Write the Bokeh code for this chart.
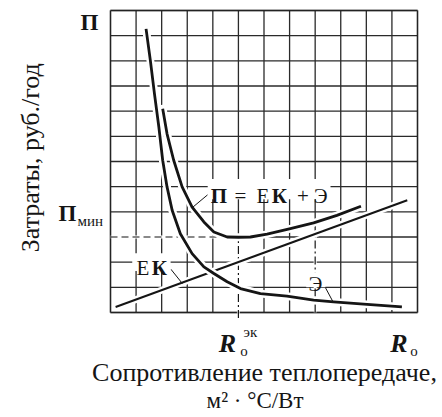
import math
from bokeh.plotting import figure
from bokeh.models import Label, BoxAnnotation
from bokeh.embed import file_html
from bokeh.resources import INLINE

# ---- data (schematic units, grid of 12 x 12 cells) ----
GRID_TICKS = list(range(13))

# operating cost curve "Э"
R_E = [1.39, 1.56, 1.72, 1.89, 2.04, 2.21, 2.41, 2.73, 3.19, 3.65, 4.04, 4.56,
       5.08, 5.86, 6.9, 7.94, 8.72, 10.03, 11.39]
E_VALS = [11.27, 10.0, 8.68, 7.37, 6.05, 4.99, 4.06, 3.13, 2.34, 1.81, 1.55, 1.22,
          0.95, 0.75, 0.65, 0.49, 0.42, 0.32, 0.22]

# capital cost line "ЕК"
R_EK = [0.2, 11.6]
EK_VALS = [0.22, 4.46]

# total cost curve "П = ЕК + Э"
R_P = [2.04, 2.21, 2.47, 2.8, 3.19, 3.65, 4.04, 4.56, 5.0, 5.47, 6.12, 7.03, 7.94,
       8.85, 9.79]
P_VALS = [8.10, 7.10, 6.05, 4.99, 4.19, 3.6, 3.2, 3.0, 2.99, 3.0, 3.11, 3.33, 3.56,
          3.86, 4.22]

P_MIN = 3.0      # minimum total cost level
R_ECON = 5.0     # economical resistance
R_MARK = 8.0     # second marked resistance

FONT = "Liberation Serif"
INK = "#151515"

# layout: the 12x12 grid occupies pixels x 110..417, y 10..312 of a 442x417 canvas
W, H = 442, 417
GL, GR, GT, GB = 110, 417, 10, 312
sx = (GR - GL) / 12.0
sy = (GB - GT) / 12.0
x_rng = (-GL / sx, 12 + (W - GR) / sx)
y_rng = (-(H - GB) / sy, 12 + GT / sy)

p = figure(width=W, height=H, x_range=x_rng, y_range=y_rng,
           x_axis_type=None, y_axis_type=None, toolbar_location=None,
           output_backend="svg", min_border=0)
p.background_fill_color = "white"
p.border_fill_color = "white"
p.outline_line_color = None

lo, hi = GRID_TICKS[0], GRID_TICKS[-1]
# grid lines
p.segment(x0=GRID_TICKS, y0=[lo] * len(GRID_TICKS), x1=GRID_TICKS, y1=[hi] * len(GRID_TICKS),
          line_color="#2a2a2a", line_width=1.3)
p.segment(x0=[lo] * len(GRID_TICKS), y0=GRID_TICKS, x1=[hi] * len(GRID_TICKS), y1=GRID_TICKS,
          line_color="#2a2a2a", line_width=1.3)

# white backgrounds behind in-plot labels (hide grid lines)
for (l, r, b, t) in [(3.8, 8.6, 4.5, 5.3), (0.85, 2.35, 1.65, 2.35), (7.65, 8.4, 1.0, 1.6)]:
    p.add_layout(BoxAnnotation(left=l, right=r, bottom=b, top=t, fill_color="white",
                               fill_alpha=1, line_color=None, level="glyph"))

# guide lines (dashed)
guides = [([0, 4.6], [P_MIN, P_MIN], "7 4"),
          ([R_ECON, R_ECON], [-0.22, P_MIN], "8 3 2 3"),
          ([R_MARK, R_MARK], [0, 3.56], "8 3 2 3")]
for xs, ys, dash in guides:
    p.line(xs, ys, line_color="white", line_width=3)
    p.line(xs, ys, line_color=INK, line_width=1.2, line_dash=dash)

# curves with white halos
for xs, ys, w in [(R_EK, EK_VALS, 2.0), (R_E, E_VALS, 2.8), (R_P, P_VALS, 2.8)]:
    p.line(xs, ys, line_color="white", line_width=w + 5, line_cap="round", line_join="round")
    p.line(xs, ys, line_color=INK, line_width=w, line_join="round")

# leader lines
for xs, ys in [([3.2, 3.8], [4.17, 4.68]), ([2.36, 2.81], [1.72, 1.15]), ([8.4, 8.71], [0.99, 0.4])]:
    p.line(xs, ys, line_color=INK, line_width=1)

# frame of the grid
p.add_layout(BoxAnnotation(left=lo, right=hi, bottom=lo, top=hi, fill_alpha=0,
                           line_color=INK, line_width=2, level="overlay"))


def lab(text, x, y, size, style="normal", align="left", angle=0.0):
    p.add_layout(Label(x=x, y=y, text=text, text_font=FONT, text_font_size=f"{size}px",
                       text_font_style=style, text_align=align, text_baseline="alphabetic",
                       angle=angle, text_color=INK))


# axis symbols
lab("П", -0.82, 11.51, 23, "bold", "center")
lab("П", -1.68, 3.93, 23, "bold", "center")
lab("мин", -1.29, 3.65, 15)
lab("R", 4.57, -1.23, 26, "bold italic", "center")
lab("о", 5.22, -1.51, 15, "normal", "center")
lab("эк", 5.47, -0.79, 15, "normal", "center")
lab("R", 11.27, -1.23, 26, "bold italic", "center")
lab("о", 11.86, -1.51, 15, "normal", "center")

# axis titles
lab("Затраты, руб./год", -3.13, 6.15, 26, "normal", "center", math.pi / 2)
lab("Сопротивление теплопередаче,", 6.02, -2.4, 26, "normal", "center")
lab("м² · °С/Вт", 5.65, -3.5, 23, "normal", "center")

# curve labels
for t, x, st in [("П", 4.24, "bold"), ("=", 5.08, "normal"), ("Е", 5.96, "normal"),
                 ("К", 6.60, "bold"), ("+", 7.52, "normal"), ("Э", 8.22, "normal")]:
    lab(t, x, 4.64, 21, st, "center")
lab("Е", 1.27, 1.75, 21, "normal", "center")
lab("К", 1.91, 1.75, 21, "bold", "center")
lab("Э", 8.01, 1.15, 21, "normal", "center")

open("out.html", "w").write(file_html(p, INLINE))
